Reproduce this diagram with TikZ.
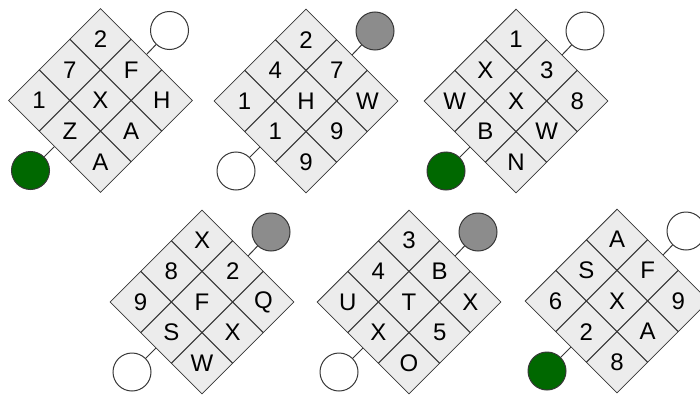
\documentclass[tikz,border=0pt]{standalone}
\usepackage{fontspec}
\setmainfont{Liberation Sans}
\usetikzlibrary{shapes.geometric}
\definecolor{cellfill}{RGB}{236,236,236}
\definecolor{edge}{RGB}{55,55,55}
\definecolor{ringgray}{RGB}{140,140,140}
\definecolor{ringgreen}{RGB}{0,104,0}
\tikzset{
  cell/.style={diamond, draw=edge, fill=cellfill, line width=0.8pt, inner sep=0pt,
    minimum width=61.3pt, minimum height=61.3pt, font=\fontsize{24}{24}\selectfont},
  ring/.style={circle, draw=edge, line width=1pt, minimum size=38pt, inner sep=0pt},
  link/.style={draw=edge, line width=1pt}
}
\newcommand\puzzle[6]{%
  \begin{scope}[shift={#2}]
    \foreach \i/\j/\t in {#3} {
      \node[cell] (#1-\i\j) at ({(\j-\i)*30.67},{(\i+\j-2)*30.67}) {\t};
    }
    \node[ring, fill=#4] (#1-ur) at (69,-70) {};
    \node[ring, fill=#5] (#1-ll) at (-70,70) {};
  \end{scope}
  \draw[link] (#1-ur) -- (#1-01.north east);
  \draw[link] (#1-ll) -- (#1-21.south west);
}
\begin{document}
\begin{tikzpicture}[x=1pt,y=-1pt]
\useasboundingbox (0,0) rectangle (700,396);
\puzzle{a}{(100.5,100.5)}{0/0/2,1/0/7,0/1/F,2/0/1,1/1/X,0/2/H,2/1/Z,1/2/A,2/2/A}{white}{ringgreen}{}
\puzzle{b}{(306,101)}{0/0/2,1/0/4,0/1/7,2/0/1,1/1/H,0/2/W,2/1/1,1/2/9,2/2/9}{ringgray}{white}{}
\puzzle{c}{(516,101)}{0/0/1,1/0/X,0/1/3,2/0/W,1/1/X,0/2/8,2/1/B,1/2/W,2/2/N}{white}{ringgreen}{}
\puzzle{d}{(202,302)}{0/0/X,1/0/8,0/1/2,2/0/9,1/1/F,0/2/Q,2/1/S,1/2/X,2/2/W}{ringgray}{white}{}
\puzzle{e}{(409,302)}{0/0/3,1/0/4,0/1/B,2/0/U,1/1/T,0/2/X,2/1/X,1/2/5,2/2/O}{ringgray}{white}{}
\puzzle{f}{(617,301)}{0/0/A,1/0/S,0/1/F,2/0/6,1/1/X,0/2/9,2/1/2,1/2/A,2/2/8}{white}{ringgreen}{}
\end{tikzpicture}
\end{document}
